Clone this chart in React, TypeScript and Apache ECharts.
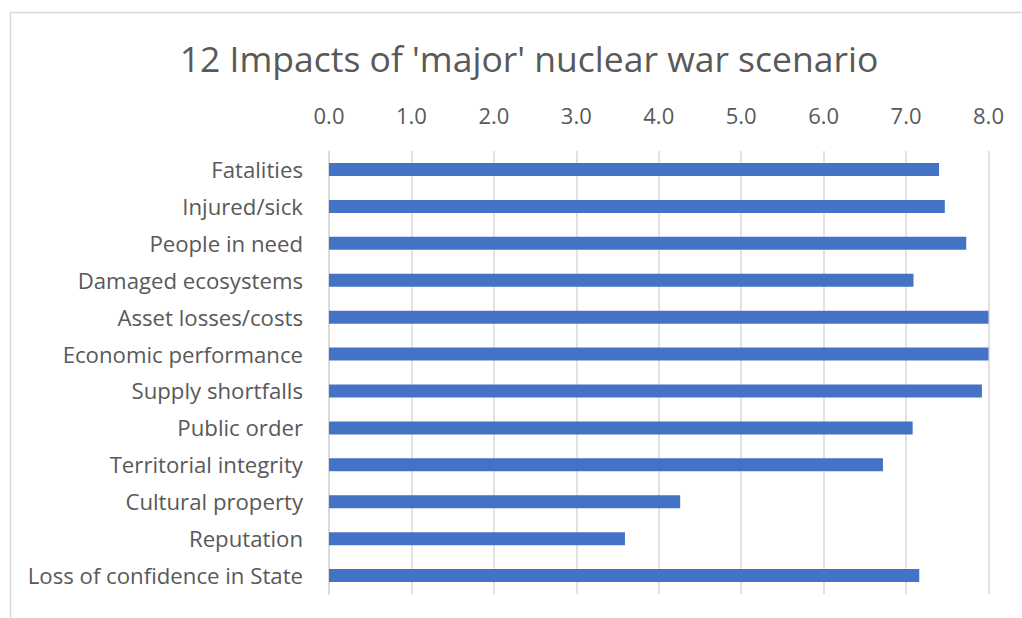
import React, { useEffect, useRef } from "react";
import * as echarts from "echarts";

const titleText = "12 Impacts of 'major' nuclear war scenario";
const categories = [
  "Fatalities",
  "Injured/sick",
  "People in need",
  "Damaged ecosystems",
  "Asset losses/costs",
  "Economic performance",
  "Supply shortfalls",
  "Public order",
  "Territorial integrity",
  "Cultural property",
  "Reputation",
  "Loss of confidence in State",
];
const values = [7.4, 7.47, 7.73, 7.09, 8.0, 8.0, 7.92, 7.08, 6.72, 4.26, 3.59, 7.16];
const axisMin = 0;
const axisMax = 8;
const axisStep = 1;

const FONT = "'Open Sans', sans-serif";
const TEXT = "#595959";
const GRID = "#d9d9d9";

export default function App() {
  const ref = useRef<HTMLDivElement>(null);
  useEffect(() => {
    if (!ref.current) return;
    const chart = echarts.init(ref.current, undefined, { renderer: "svg" });
    chart.setOption({
      animation: false,
      backgroundColor: "#ffffff",
      textStyle: { fontFamily: FONT },
      graphic: [
        {
          type: "rect",
          shape: { x: 10.5, y: 12.5, width: 1100, height: 700 },
          style: { fill: "none", stroke: GRID, lineWidth: 1.5 },
          silent: true,
        },
        {
          type: "text",
          x: 529,
          y: 58,
          style: {
            text: titleText,
            fontFamily: FONT,
            fontSize: 35.5,
            fill: TEXT,
            align: "center",
            verticalAlign: "middle",
          },
        },
      ],
      grid: { left: 329, right: 33.5, top: 151, bottom: 24, containLabel: false },
      xAxis: {
        type: "value",
        position: "top",
        min: axisMin,
        max: axisMax,
        interval: axisStep,
        axisLine: { show: false },
        axisTick: { show: false },
        splitLine: { show: true, lineStyle: { color: GRID, width: 1.5 } },
        axisLabel: {
          color: TEXT,
          fontFamily: FONT,
          fontSize: 22,
          margin: 36,
          verticalAlign: "middle",
          formatter: (v: number) => v.toFixed(1),
        },
      },
      yAxis: {
        type: "category",
        data: categories,
        inverse: true,
        axisLine: { show: true, lineStyle: { color: GRID, width: 1.5 } },
        axisTick: { show: false },
        axisLabel: {
          color: TEXT,
          fontFamily: FONT,
          fontSize: 22.2,
          margin: 26,
        },
      },
      series: [
        {
          type: "bar",
          data: values,
          barWidth: 13,
          itemStyle: { color: "#4472C4" },
        },
      ],
    });
    return () => chart.dispose();
  }, []);
  return (
    <div
      ref={ref}
      style={{ position: "fixed", left: 0, top: 0, width: 1022, height: 618 }}
    />
  );
}
